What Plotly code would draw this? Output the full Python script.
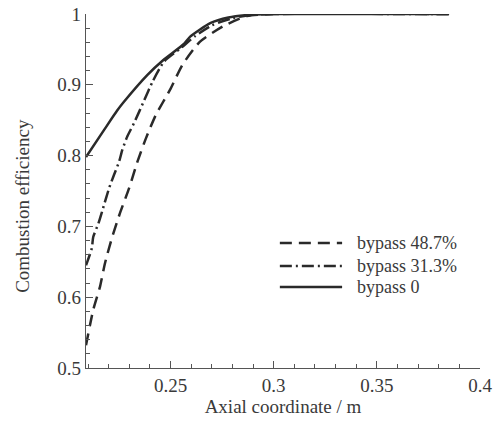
import plotly.graph_objects as go

# ---- data ----
series_names = ["bypass 48.7%", "bypass 31.3%", "bypass 0"]

x_487 = [0.209, 0.2125, 0.2158, 0.2182, 0.2215, 0.2255, 0.2299, 0.2339, 0.238, 0.2428,
         0.2501, 0.2557, 0.2643, 0.2757, 0.287, 0.300, 0.385]
y_487 = [0.532, 0.582, 0.615, 0.648, 0.683, 0.719, 0.754, 0.791, 0.824, 0.857,
         0.895, 0.928, 0.961, 0.983, 0.997, 1.000, 1.000]

x_313 = [0.209, 0.2118, 0.2125, 0.215, 0.217, 0.2202, 0.2226, 0.225, 0.2266, 0.229,
         0.2323, 0.2372, 0.2412, 0.2469, 0.255, 0.262, 0.270, 0.280, 0.290, 0.300, 0.385]
y_313 = [0.645, 0.669, 0.685, 0.704, 0.723, 0.754, 0.773, 0.791, 0.808, 0.827,
         0.846, 0.878, 0.904, 0.933, 0.952, 0.969, 0.984, 0.994, 0.999, 1.000, 1.000]

x_0 = [0.209, 0.2177, 0.2242, 0.2274, 0.2388, 0.2465, 0.2566, 0.2595, 0.2692, 0.278,
       0.289, 0.300, 0.385]
y_0 = [0.798, 0.836, 0.864, 0.876, 0.914, 0.935, 0.958, 0.968, 0.987, 0.995,
       0.999, 1.000, 1.000]

x_tickvals = [0.25, 0.3, 0.35, 0.4]
x_ticktext = ["0.25", "0.3", "0.35", "0.4"]
y_tickvals = [0.5, 0.6, 0.7, 0.8, 0.9, 1.0]
y_ticktext = ["0.5", "0.6", "0.7", "0.8", "0.9", "1"]

x_title = "Axial coordinate / m"
y_title = "Combustion efficiency"

# ---- styles ----
line_color = "#2a2a2a"
dashes = ["12px,7px", "12px,4px,2px,4px", "solid"]
FONT = "Liberation Serif, Times New Roman, serif"
TXT = "#3a3a3a"

fig = go.Figure()
for xs, ys, name, dash in zip([x_487, x_313, x_0], [y_487, y_313, y_0], series_names, dashes):
    fig.add_trace(go.Scatter(x=xs, y=ys, mode="lines", name=name,
                             line=dict(color=line_color, width=2.5, dash=dash,
                                       shape="spline", smoothing=0.6),
                             showlegend=False, hoverinfo="skip"))

# custom legend (long line samples as in the reference)
legend_rows_y = [0.353, 0.288, 0.229]
for name, dash, ly in zip(series_names, dashes, legend_rows_y):
    fig.add_shape(type="line", xref="paper", yref="paper",
                  x0=0.492, x1=0.650, y0=ly, y1=ly,
                  line=dict(color=line_color, width=2.5, dash=dash))
    fig.add_annotation(xref="paper", yref="paper", x=0.683, y=ly, text=name,
                       showarrow=False, xanchor="left", yanchor="middle",
                       font=dict(family=FONT, size=18, color=TXT))

# y-axis title (slightly below the plot centre, as in the reference)
fig.add_annotation(xref="paper", yref="paper", x=0, y=0.458, xshift=-63,
                   text=y_title, textangle=-90, showarrow=False,
                   xanchor="center", yanchor="middle",
                   font=dict(family=FONT, size=19, color=TXT))

axis_common = dict(showline=True, linecolor="#555555", linewidth=1.2, mirror=False,
                   showgrid=False, zeroline=False, ticks="inside",
                   tickcolor="#555555", tickwidth=1.2, automargin=False,
                   ticklabeloverflow="allow",
                   tickfont=dict(family=FONT, size=19, color=TXT))

fig.update_xaxes(range=[0.209, 0.4], tickvals=x_tickvals, ticktext=x_ticktext,
                 ticklen=7,
                 minor=dict(dtick=0.01, tick0=0.2, ticks="inside", ticklen=4,
                            tickcolor="#555555", tickwidth=1),
                 title=dict(text=x_title, standoff=2,
                            font=dict(family=FONT, size=19, color=TXT)),
                 **axis_common)
fig.update_yaxes(range=[0.5, 1.0], tickvals=y_tickvals, ticktext=y_ticktext,
                 ticklen=7,
                 minor=dict(dtick=0.02, tick0=0.5, ticks="inside", ticklen=4,
                            tickcolor="#555555", tickwidth=1),
                 **axis_common)

fig.update_layout(width=498, height=422, margin=dict(l=86, r=18, t=14, b=54),
                  paper_bgcolor="white", plot_bgcolor="white", showlegend=False)

# remove the default 8px page margin so the figure fills the window exactly
fig.write_html("out.html", config={"displayModeBar": False},
               post_script="document.body.style.margin='0';")
